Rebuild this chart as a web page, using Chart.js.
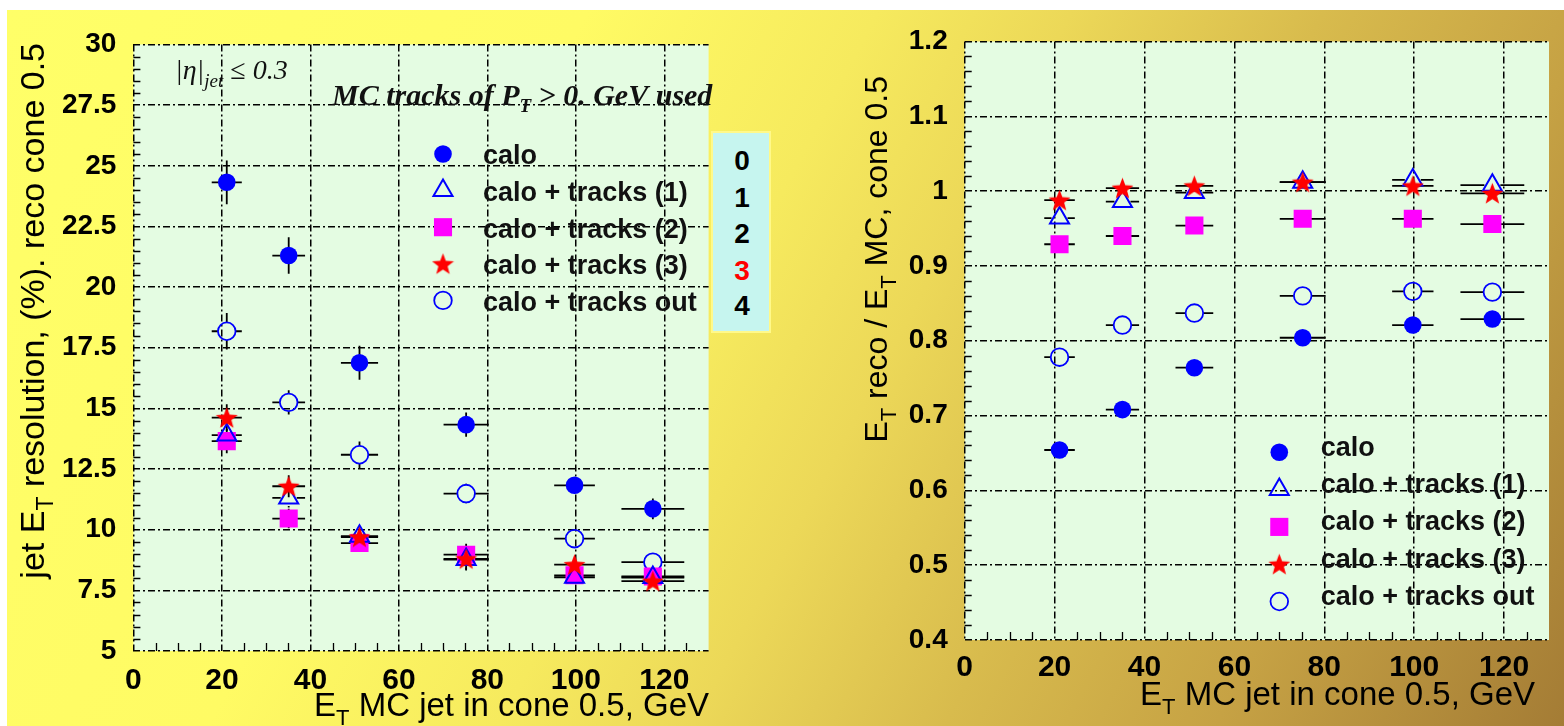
<!DOCTYPE html>
<html>
<head>
<meta charset="utf-8">
<script src="https://cdn.jsdelivr.net/npm/chart.js@4.4.0/dist/chart.umd.min.js"></script>
<style>
  html, body { margin: 0; padding: 0; background: #fff; width: 1564px; height: 726px; overflow: hidden; }
  #page {
    position: absolute; left: 7px; top: 10px; width: 1557px; height: 716px;
    background: linear-gradient(118deg, #ffff68 0%, #fffb64 30%, #f6ea5e 45%, #ecd858 55%, #d8bb4d 68%, #c6a244 82%, #a47c35 100%);
  }
  canvas { position: absolute; top: 0; }
  #left { left: 0; }
  #right { left: 790px; }
  #idx {
    position: absolute; left: 711px; top: 131px; width: 56px; height: 198px;
    background: #c6f5ef; border: 2px solid #fff98a;
    font: bold 28px "Liberation Sans", Arial, sans-serif; color: #000;
    text-align: center;
  }
  #idx div { position: absolute; left: 1px; width: 56px; height: 30px; line-height: 30px; }
</style>
</head>
<body>
<div id="page"></div>
<canvas id="left" width="790" height="726"></canvas>
<canvas id="right" width="774" height="726"></canvas>
<div id="idx">
  <div style="top:13px">0</div>
  <div style="top:50px">1</div>
  <div style="top:86px">2</div>
  <div style="top:123px;color:#f00">3</div>
  <div style="top:158px">4</div>
</div>
<script>
// --- Data ---
const etMC = [21.1, 35.1, 51.1, 75.2, 99.7, 117.4];
const etErr = [3.4, 3.7, 4.2, 5.1, 4.6, 7.1];

// left panel: jet ET resolution (%)
const resCalo = [24.32, 21.3, 16.88, 14.33, 11.83, 10.86];
const resCaloErr = [0.9, 0.75, 0.7, 0.5, 0.15, 0.43];
const resTrk1 = [13.9, 11.31, 9.73, 8.77, 8.04, 8.03];
const resTrk1Err = [0.45, 0.4, 0.3, 0.45, 0.25, 0.2];
const resTrk2 = [13.65, 10.46, 9.45, 8.97, 8.12, 8.07];
const resTrk2Err = [0.5, 0.4, 0.3, 0.45, 0.25, 0.2];
const resTrk3 = [14.62, 11.79, 9.7, 8.8, 8.56, 7.88];
const resTrk3Err = [0.55, 0.45, 0.3, 0.45, 0.25, 0.2];
const resOut = [18.18, 15.25, 13.09, 11.49, 9.63, 8.66];
const resOutErr = [0.75, 0.5, 0.55, 0.4, 0.35, 0.15];

// right panel: ET reco / ET MC
const ratioCalo = [0.654, 0.708, 0.764, 0.804, 0.821, 0.829];
const ratioTrk1 = [0.964, 0.986, 0.998, 1.012, 1.015, 1.008];
const ratioTrk2 = [0.929, 0.94, 0.954, 0.963, 0.963, 0.956];
const ratioTrk3 = [0.988, 1.004, 1.007, 1.012, 1.007, 0.997];
const ratioOut = [0.778, 0.821, 0.837, 0.86, 0.866, 0.865];
const ratioErr = [0.003, 0.003, 0.003, 0.003, 0.003, 0.003];

const xTicks = [0, 20, 40, 60, 80, 100, 120];
const resTicks = [5, 7.5, 10, 12.5, 15, 17.5, 20, 22.5, 25, 27.5, 30];
const ratioTicks = [0.4, 0.5, 0.6, 0.7, 0.8, 0.9, 1, 1.1, 1.2];

const legendLabels = ['calo', 'calo + tracks (1)', 'calo + tracks (2)', 'calo + tracks (3)', 'calo + tracks out'];

// --- Marker styles ---
const SANS = '"Liberation Sans", Arial, sans-serif';
const SERIF = '"Liberation Serif", "Times New Roman", serif';

function makeStar(size, color) {
    const c = document.createElement('canvas');
    c.width = size; c.height = size;
    const g = c.getContext('2d');
    const R = size / 2, r = R * 0.42;
    g.beginPath();
    for (let k = 0; k < 10; k++) {
        const rad = k % 2 === 0 ? R : r;
        const a = -Math.PI / 2 + k * Math.PI / 5;
        g.lineTo(R + rad * Math.cos(a), R + 1 + rad * Math.sin(a));
    }
    g.closePath();
    g.fillStyle = color;
    g.fill();
    return c;
}
const starImg = makeStar(23, '#ff0000');

// gap = how far error bars stay clear of the marker centre
const styles = [
    { pointStyle: 'circle', pointRadius: 8.8, pointBackgroundColor: '#0000ff', pointBorderColor: '#0000ff', pointBorderWidth: 0, order: 4, gap: 0 },
    { pointStyle: 'triangle', pointRadius: 11, pointBackgroundColor: 'rgba(0,0,0,0)', pointBorderColor: '#0000ff', pointBorderWidth: 2, order: 1, gap: 8 },
    { pointStyle: 'rect', pointRadius: 12.8, pointBackgroundColor: '#ff00ff', pointBorderColor: '#ff00ff', pointBorderWidth: 0, order: 2, gap: 0 },
    { pointStyle: starImg, pointRadius: 11, pointBackgroundColor: '#ff0000', pointBorderColor: '#ff0000', pointBorderWidth: 0, order: 0, gap: 0 },
    { pointStyle: 'circle', pointRadius: 8.8, pointBackgroundColor: 'rgba(0,0,0,0)', pointBorderColor: '#0000ff', pointBorderWidth: 1.8, order: 3, gap: 8.8 },
];

function series(i, ys, yErr) {
    return Object.assign({
        label: legendLabels[i],
        data: etMC.map((x, k) => ({ x, y: ys[k] })),
        xErr: etErr,
        yErr: yErr,
        showLine: false,
        pointHoverRadius: styles[i].pointRadius,
    }, styles[i]);
}

// --- Drawing helpers ---
function drawRich(ctx, parts, x, y, align, font, subFont, subDy) {
    let w = 0;
    parts.forEach(([t, sub]) => { ctx.font = sub ? subFont : font; w += ctx.measureText(t).width; });
    let cx = align === 'right' ? x - w : (align === 'center' ? x - w / 2 : x);
    ctx.textAlign = 'left';
    ctx.textBaseline = 'alphabetic';
    parts.forEach(([t, sub]) => {
        ctx.font = sub ? subFont : font;
        ctx.fillText(t, cx, y + (sub ? subDy : 0));
        cx += ctx.measureText(t).width;
    });
}

function segment(ctx, x1, y1, x2, y2) {
    if (Math.abs(x2 - x1) + Math.abs(y2 - y1) < 0.5) return;
    ctx.moveTo(x1, y1); ctx.lineTo(x2, y2);
}

const decor = {
    id: 'decor',
    beforeDraw(chart, args, opts) {
        const { ctx, chartArea: a } = chart;
        ctx.save();
        ctx.fillStyle = '#e4fce2';
        ctx.fillRect(a.left, a.top, a.right - a.left, a.bottom - a.top);
        ctx.restore();
    },
    beforeDatasetsDraw(chart, args, opts) {
        const { ctx, chartArea: a, scales: { x, y } } = chart;
        ctx.save();
        // minor ticks
        ctx.strokeStyle = '#000';
        ctx.lineWidth = 1.3;
        ctx.beginPath();
        for (let k = 0; k * 5 < 130; k++) {
            if (k % 4 === 0) continue;
            const px = Math.round(x.getPixelForValue(k * 5)) + 0.5;
            ctx.moveTo(px, a.bottom); ctx.lineTo(px, a.bottom - 8);
        }
        const ym = opts.yMinor;
        for (let k = 0; ym.min + k * ym.step <= ym.max + 1e-9; k++) {
            if (k % 5 === 0) continue;
            const py = Math.round(y.getPixelForValue(ym.min + k * ym.step)) + 0.5;
            ctx.moveTo(a.left, py); ctx.lineTo(a.left + 7, py);
        }
        ctx.stroke();
        // error bars, kept clear of open markers
        ctx.lineWidth = 1.8;
        chart.data.datasets.forEach(ds => {
            const g = ds.gap;
            ds.data.forEach((p, i) => {
                const px = x.getPixelForValue(p.x), py = y.getPixelForValue(p.y);
                const xl = x.getPixelForValue(p.x - ds.xErr[i]), xr = x.getPixelForValue(p.x + ds.xErr[i]);
                const yt = y.getPixelForValue(p.y + ds.yErr[i]), yb = y.getPixelForValue(p.y - ds.yErr[i]);
                ctx.beginPath();
                segment(ctx, xl, py, Math.min(px - g, px), py);
                segment(ctx, Math.max(px + g, px), py, xr, py);
                if (py - yt > g) segment(ctx, px, yt, px, py - g);
                if (yb - py > g) segment(ctx, px, py + g, px, yb);
                ctx.stroke();
            });
        });
        ctx.restore();
    },
    afterDraw(chart, args, opts) {
        const ctx = chart.ctx;
        ctx.save();
        ctx.fillStyle = '#000';
        // x title
        const xt = opts.xTitle;
        drawRich(ctx, [['E'], ['T', true], [' MC jet in cone 0.5, GeV']], xt.x, xt.y, 'right',
            '33px ' + SANS, '22px ' + SANS, 9);
        // y title (rotated)
        const yt = opts.yTitle;
        ctx.save();
        ctx.translate(yt.x, yt.y);
        ctx.rotate(-Math.PI / 2);
        drawRich(ctx, yt.parts, 0, 0, 'right', yt.size + 'px ' + SANS, Math.round(yt.size * 0.68) + 'px ' + SANS, 9);
        ctx.restore();
        // legend
        const lg = opts.legend;
        chart.data.datasets.forEach((ds, i) => {
            const ly = lg.y + i * lg.step;
            ctx.save();
            ctx.fillStyle = ds.pointBackgroundColor;
            ctx.strokeStyle = ds.pointBorderColor;
            ctx.lineWidth = ds.pointBorderWidth;
            Chart.helpers.drawPoint(ctx, {
                pointStyle: ds.pointStyle, radius: ds.pointRadius, rotation: 0,
                borderWidth: ds.pointBorderWidth
            }, lg.x, ly);
            ctx.restore();
            ctx.fillStyle = '#111';
            ctx.font = 'bold 27px ' + SANS;
            ctx.textAlign = 'left';
            ctx.textBaseline = 'middle';
            ctx.fillText(ds.label, lg.textX, ly + lg.textDy);
        });
        // notes
        if (opts.notes) {
            ctx.fillStyle = '#111';
            drawRich(ctx, [['|\u03b7|'], ['jet', true], [' \u2264 0.3']], 175, 79, 'left',
                'italic 28px ' + SERIF, 'italic 19px ' + SERIF, 8);
            drawRich(ctx, [['MC tracks of P'], ['T', true], [' > 0. GeV used']], 332, 105, 'left',
                'italic bold 30px ' + SERIF, 'italic bold 19px ' + SERIF, 7);
        }
        ctx.restore();
    }
};

function axes(yMin, yMax, yTicksList, yWidth, xHeight, xPad) {
    return {
        x: {
            type: 'linear', min: 0, max: 130,
            afterBuildTicks: s => { s.ticks = xTicks.map(v => ({ value: v })); },
            afterFit: s => { s.height = xHeight; },
            ticks: { color: '#000', padding: xPad, font: { family: SANS, size: 30, weight: 'bold' }, callback: v => String(v), maxRotation: 0 },
            grid: { color: '#000', lineWidth: 1.5, drawTicks: false },
            border: { display: false, dash: [7, 3, 2, 3] }
        },
        y: {
            type: 'linear', min: yMin, max: yMax,
            afterBuildTicks: s => { s.ticks = yTicksList.map(v => ({ value: v })); },
            afterFit: s => { s.width = yWidth; },
            ticks: { color: '#000', padding: 17, font: { family: SANS, size: 28, weight: 'bold' }, callback: v => String(v) },
            grid: { color: '#000', lineWidth: 1.5, drawTicks: false },
            border: { display: false, dash: [7, 3, 2, 3] }
        }
    };
}

const common = {
    responsive: false,
    devicePixelRatio: 1,
    animation: false,
    events: [],
};

new Chart(document.getElementById('left'), {
    type: 'scatter',
    data: {
        datasets: [
            series(0, resCalo, resCaloErr),
            series(1, resTrk1, resTrk1Err),
            series(2, resTrk2, resTrk2Err),
            series(3, resTrk3, resTrk3Err),
            series(4, resOut, resOutErr),
        ]
    },
    options: Object.assign({}, common, {
        layout: { padding: { left: 0, top: 44.5, right: 81.4, bottom: 0 } },
        scales: axes(5, 30, resTicks, 133.4, 75, 12),
        plugins: {
            legend: { display: false },
            tooltip: { enabled: false },
            decor: {
                yMinor: { min: 5, max: 30, step: 0.5 },
                xTitle: { x: 709, y: 716 },
                yTitle: { x: 44, y: 43, size: 34, parts: [['jet E'], ['T', true], [' resolution, (%). reco cone 0.5']] },
                legend: { x: 443, y: 154, step: 36.6, textX: 483, textDy: 3 },
                notes: true
            }
        }
    }),
    plugins: [decor]
});

new Chart(document.getElementById('right'), {
    type: 'scatter',
    data: {
        datasets: [
            series(0, ratioCalo, ratioErr),
            series(1, ratioTrk1, ratioErr),
            series(2, ratioTrk2, ratioErr),
            series(3, ratioTrk3, ratioErr),
            series(4, ratioOut, ratioErr),
        ]
    },
    options: Object.assign({}, common, {
        layout: { padding: { left: 0, top: 41.5, right: 15, bottom: 0 } },
        scales: axes(0.4, 1.2, ratioTicks, 174.7, 86, 10),
        plugins: {
            legend: { display: false },
            tooltip: { enabled: false },
            decor: {
                yMinor: { min: 0.4, max: 1.2, step: 0.02 },
                xTitle: { x: 745, y: 705 },
                yTitle: { x: 96.7, y: 76, size: 32, parts: [['E'], ['T', true], [' reco / E'], ['T', true], [' MC, cone 0.5']] },
                legend: { x: 489.3, y: 452.3, step: 37.3, textX: 530.7, textDy: -4 },
                notes: false
            }
        }
    }),
    plugins: [decor]
});
</script>
</body>
</html>
